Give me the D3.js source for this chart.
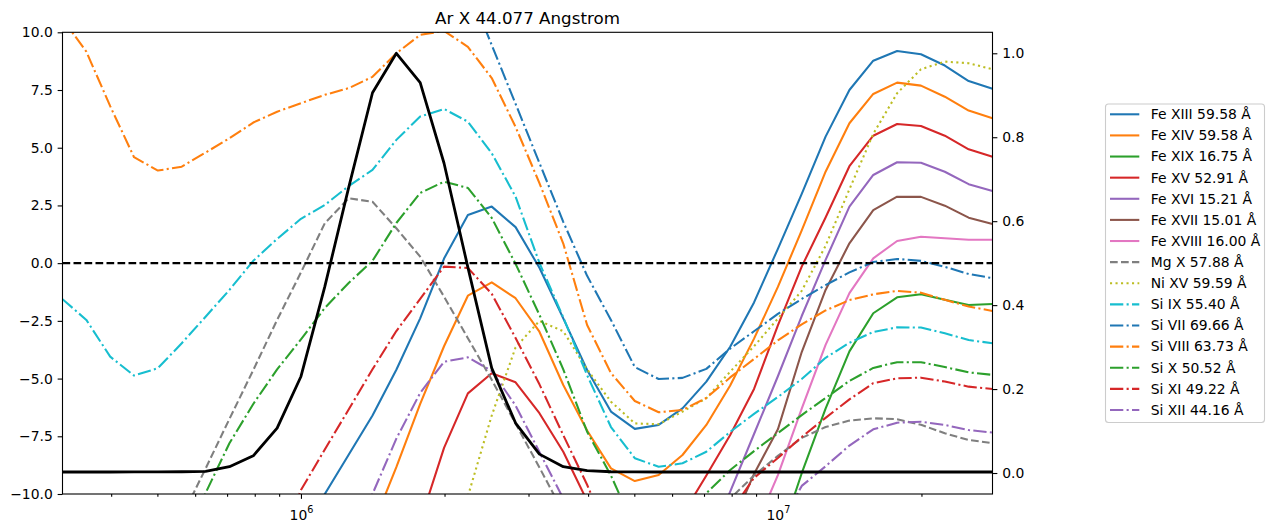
<!DOCTYPE html>
<html>
<head>
<meta charset="utf-8">
<script src="https://cdn.jsdelivr.net/npm/d3@7"></script>
<style>
  body { margin: 0; background: #fff; }
  svg { display: block; font-family: "DejaVu Sans", sans-serif; }
</style>
</head>
<body>
<svg id="chart" width="1274" height="532"></svg>
<script>
// log10 of temperature (K) for every grid point
var logT = [5.50, 5.55, 5.60, 5.65, 5.70, 5.75, 5.80, 5.85, 5.90, 5.95,
            6.00, 6.05, 6.10, 6.15, 6.20, 6.25, 6.30, 6.35, 6.40, 6.45,
            6.50, 6.55, 6.60, 6.65, 6.70, 6.75, 6.80, 6.85, 6.90, 6.95,
            7.00, 7.05, 7.10, 7.15, 7.20, 7.25, 7.30, 7.35, 7.40, 7.45];

var title = "Ar X 44.077 Angstrom";

var labels = ["Fe XIII 59.58 Å", "Fe XIV 59.58 Å", "Fe XIX 16.75 Å", "Fe XV 52.91 Å",
              "Fe XVI 15.21 Å", "Fe XVII 15.01 Å", "Fe XVIII 16.00 Å", "Mg X 57.88 Å",
              "Ni XV 59.59 Å", "Si IX 55.40 Å", "Si VII 69.66 Å", "Si VIII 63.73 Å",
              "Si X 50.52 Å", "Si XI 49.22 Å", "Si XII 44.16 Å"];

// null = point far outside the plotted window
var n = null;
var feXIII = [n,n,n,n,n,n,n,n,n,n, -12.5,-10.0,-8.3,-6.6,-4.62,-2.39,0.2,2.09,2.45,1.56,
              -0.2,-2.39,-4.63,-6.43,-7.18,-7.01,-6.29,-5.13,-3.62,-1.7,
              0.62,3.0,5.48,7.5,8.77,9.19,9.05,8.56,7.89,7.55];
var feXIV = [n,n,n,n,n,n,n,n,n,n, n,n,n,-11.4,-8.84,-6.1,-3.6,-1.41,-0.83,-1.52,
             -2.97,-5.28,-7.25,-8.89,-9.44,-9.18,-8.31,-7.01,-5.3,-3.27,
             -1.03,1.42,3.96,6.06,7.33,7.82,7.69,7.21,6.61,6.28];
var feXIX = [n,n,n,n,n,n,n,n,n,n, n,n,n,n,n,n,n,n,n,n,
             n,n,n,n,n,n,n,n,n,n,
             -12.2,-9.1,-6.3,-3.82,-2.17,-1.48,-1.35,-1.59,-1.81,-1.77];
var feXV = [n,n,n,n,n,n,n,n,n,n, n,n,n,n,n,-11.2,-8.0,-5.64,-4.77,-5.16,
            -6.5,-8.17,-10.3,-12.5,n,n,-10.9,-9.2,-7.44,-5.45,
            -2.7,-0.15,1.98,4.2,5.52,6.03,5.94,5.52,4.93,4.61];
var feXVI = [n,n,n,n,n,n,n,n,n,n, n,n,n,n,n,n,n,n,n,n,
             n,n,n,n,n,n,n,-12.3,-9.9,-7.4,
             -4.9,-2.29,0.14,2.45,3.82,4.37,4.35,3.96,3.42,3.13];
var feXVII = [n,n,n,n,n,n,n,n,n,n, n,n,n,n,n,n,n,n,n,n,
              n,n,n,n,n,n,n,n,-11.5,-9.13,
              -7.2,-3.85,-1.16,0.86,2.3,2.88,2.87,2.49,1.97,1.7];
var feXVIII = [n,n,n,n,n,n,n,n,n,n, n,n,n,n,n,n,n,n,n,n,
               n,n,n,n,n,n,n,n,n,-11.6,
               -9.18,-6.3,-3.54,-1.3,0.21,0.96,1.14,1.08,1.01,1.01];
var mgX = [n,n,n,n,n,-11.0,-8.9,-6.75,-4.63,-2.46, -0.4,1.73,2.81,2.66,1.51,0.28,-1.45,-3.25,-5.05,-6.95,
           -8.85,-10.8,n,n,n,n,n,-11.5,-10.2,-9.2,
           -8.35,-7.57,-7.1,-6.82,-6.72,-6.76,-7.0,-7.37,-7.66,-7.8];
var niXV = [n,n,n,n,n,n,n,n,n,n, n,n,n,n,n,n,-13.0,-10.1,-6.6,-3.65,
            -2.5,-2.95,-4.6,-6.0,-6.94,-6.98,-6.43,-5.85,-4.7,-3.6,
            -2.4,-1.2,0.75,3.2,5.6,7.36,8.4,8.73,8.66,8.4];
var siIX = [-1.56,-2.46,-4.05,-4.87,-4.55,-3.47,-2.32,-1.16,0.1,1.05,
            1.92,2.52,3.34,4.04,5.34,6.35,6.68,6.13,4.76,2.88,
            0.01,-2.35,-4.85,-7.1,-8.45,-8.82,-8.67,-8.17,-7.31,-6.53,
            -5.8,-5.02,-4.1,-3.45,-2.98,-2.78,-2.79,-3.04,-3.33,-3.47];
var siVII = [n,n,n,n,n,n,n,n,n,n, n,n,n,n,n,n,n,12.0,9.45,6.9,
             4.34,1.79,-0.55,-2.46,-4.5,-5.02,-4.97,-4.58,-3.7,-2.95,
             -2.2,-1.55,-0.95,-0.4,0.05,0.18,0.1,-0.16,-0.47,-0.65];
var siVIII = [10.58,9.16,6.8,4.59,4.01,4.18,4.79,5.41,6.09,6.56,
              6.93,7.29,7.58,8.07,9.09,9.89,10.06,9.37,8.02,5.9,
              3.47,0.85,-2.68,-4.76,-5.97,-6.46,-6.36,-5.84,-4.95,-4.15,
              -3.35,-2.65,-2.05,-1.6,-1.35,-1.2,-1.28,-1.59,-1.88,-2.07];
var siX = [n,n,n,n,n,-12.5,-9.96,-7.8,-6.1,-4.6, -3.3,-1.94,-0.86,0.1,1.74,3.04,3.53,3.26,1.96,-0.03,
           -2.24,-4.6,-7.3,-9.2,-11.5,n,-11.2,-9.96,-8.96,-8.14,
           -7.36,-6.58,-5.84,-5.1,-4.54,-4.29,-4.29,-4.5,-4.73,-4.84];
var siXI = [n,n,n,n,n,n,n,n,n,-12.5, -9.83,-8.07,-6.34,-4.6,-2.94,-1.55,-0.15,-0.21,-1.33,-3.24,
            -5.25,-7.45,-9.6,-12.0,n,n,n,n,-10.8,-9.3,
            -8.44,-7.53,-6.7,-5.9,-5.2,-4.99,-4.96,-5.13,-5.35,-5.45];
var siXII = [n,n,n,n,n,n,n,n,n,n, n,n,-12.5,-10.0,-7.6,-5.62,-4.27,-4.08,-4.67,-6.17,
             -8.18,-10.2,n,n,n,n,n,n,n,n,
             -11.5,-9.65,-8.8,-7.9,-7.2,-6.91,-6.87,-7.01,-7.23,-7.34];

// normalised contribution function of Ar X 44.077 (right axis)
var gofT = [0.0024,0.0024,0.0024,0.0025,0.0027,0.003,0.004,0.015,0.041,0.107,
            0.23,0.444,0.68,0.906,1.0,0.93,0.738,0.49,0.25,0.119,
            0.045,0.015,0.0055,0.003,0.0025,0.0024,0.0024,0.0024,0.0024,0.0024,
            0.0024,0.0024,0.0024,0.0024,0.0024,0.0024,0.0024,0.0024,0.0024,0.0024];

var leftTicks = [-10, -7.5, -5, -2.5, 0, 2.5, 5, 7.5, 10];
var rightTicks = [0, 0.2, 0.4, 0.6, 0.8, 1.0];
var majorT = [1e6, 1e7];
var minorT = [4e5, 5e5, 6e5, 7e5, 8e5, 9e5, 2e6, 3e6, 4e6, 5e6, 6e6, 7e6, 8e6, 9e6, 2e7];

var seriesValues = [feXIII, feXIV, feXIX, feXV, feXVI, feXVII, feXVIII, mgX,
                    niXV, siIX, siVII, siVIII, siX, siXI, siXII];

// styles
var colors = ["#1f77b4", "#ff7f0e", "#2ca02c", "#d62728", "#9467bd", "#8c564b", "#e377c2", "#7f7f7f",
              "#bcbd22", "#17becf", "#1f77b4", "#ff7f0e", "#2ca02c", "#d62728", "#9467bd"];
var SOLID = null, DASHED = "7.7,3.3", DOTTED = "2.1,3.4", DASHDOT = "13.3,3.3,2.1,3.3";
var dashes = [SOLID, SOLID, SOLID, SOLID, SOLID, SOLID, SOLID, DASHED,
              DOTTED, DASHDOT, DASHDOT, DASHDOT, DASHDOT, DASHDOT, DASHDOT];

var svg = d3.select("#chart");
var padL = 62.5, padR = 992.5, padT = 32.3, padB = 494;
var fs = 13.9;

var x = d3.scaleLog()
    .domain([Math.pow(10, 5.5), Math.pow(10, 7.45)])
    .range([padL, padR]);
var y = d3.scaleLinear().domain([-10, 10]).range([padB, padT]);
var y2 = d3.scaleLinear().domain([-0.05, 1.05]).range([padB, padT]);

svg.append("defs").append("clipPath").attr("id", "clip")
    .append("rect")
    .attr("x", padL).attr("y", padT)
    .attr("width", padR - padL).attr("height", padB - padT);

var plot = svg.append("g").attr("clip-path", "url(#clip)");

var line = d3.line()
    .defined(function(d) { return d[1] != null; })
    .x(function(d) { return x(Math.pow(10, d[0])); })
    .y(function(d) { return y(d[1]); });

seriesValues.forEach(function(vals, k) {
    plot.append("path")
        .datum(logT.map(function(t, i) { return [t, vals[i]]; }))
        .attr("fill", "none")
        .attr("stroke", colors[k])
        .attr("stroke-width", 2.08)
        .attr("stroke-linejoin", "round")
        .attr("stroke-dasharray", dashes[k])
        .attr("d", line);
});

// zero line
plot.append("line")
    .attr("x1", padL).attr("x2", padR)
    .attr("y1", y(0)).attr("y2", y(0))
    .attr("stroke", "#000")
    .attr("stroke-width", 2.08)
    .attr("stroke-dasharray", DASHED);

// G(T) on the twin axis
var line2 = d3.line()
    .x(function(d) { return x(Math.pow(10, d[0])); })
    .y(function(d) { return y2(d[1]); });

plot.append("path")
    .datum(logT.map(function(t, i) { return [t, gofT[i]]; }))
    .attr("fill", "none")
    .attr("stroke", "#000")
    .attr("stroke-width", 2.78)
    .attr("stroke-linejoin", "round")
    .attr("d", line2);

// axes
function styleAxis(g) {
    g.attr("font-size", fs).attr("font-family", null);
    g.select(".domain").remove();
    g.selectAll(".tick line").attr("stroke-width", 1.1);
    g.selectAll(".tick text").attr("fill", "#000");
}

svg.append("g")
    .attr("transform", "translate(" + padL + ",0)")
    .call(d3.axisLeft(y).tickValues(leftTicks).tickSize(4.86).tickPadding(4.86)
        .tickFormat(d3.format(".1f")))
    .call(styleAxis);

svg.append("g")
    .attr("transform", "translate(" + padR + ",0)")
    .call(d3.axisRight(y2).tickValues(rightTicks).tickSize(4.86).tickPadding(4.86)
        .tickFormat(d3.format(".1f")))
    .call(styleAxis);

svg.append("g")
    .attr("transform", "translate(0," + padB + ")")
    .call(d3.axisBottom(x).tickValues(minorT).tickSize(2.78).tickFormat(""))
    .call(styleAxis);

var gx = svg.append("g")
    .attr("transform", "translate(0," + padB + ")")
    .call(d3.axisBottom(x).tickValues(majorT).tickSize(4.86).tickFormat(""))
    .call(styleAxis);

gx.selectAll(".tick text").each(function(d) {
    var t = d3.select(this).attr("y", 25.5).attr("dy", null).attr("text-anchor", "middle");
    t.append("tspan").text("10");
    t.append("tspan").attr("dy", -6.5).attr("font-size", 9.7)
        .text(Math.round(Math.log10(d)));
});

// frame
svg.append("rect")
    .attr("x", padL).attr("y", padT)
    .attr("width", padR - padL).attr("height", padB - padT)
    .attr("fill", "none").attr("stroke", "#000").attr("stroke-width", 1.1);

// title
svg.append("text")
    .attr("x", (padL + padR) / 2).attr("y", 24)
    .attr("text-anchor", "middle")
    .attr("font-size", 16.7)
    .text(title);

// legend
var legend = svg.append("g");
legend.append("rect")
    .attr("x", 1105.5).attr("y", 104)
    .attr("width", 159).attr("height", 318.5)
    .attr("rx", 3).attr("ry", 3)
    .attr("fill", "#fff").attr("fill-opacity", 0.8)
    .attr("stroke", "#cccccc").attr("stroke-width", 1.1);

labels.forEach(function(lab, k) {
    var ly = 114.3 + 21.12 * k;
    legend.append("line")
        .attr("x1", 1110).attr("x2", 1139.3)
        .attr("y1", ly).attr("y2", ly)
        .attr("stroke", colors[k])
        .attr("stroke-width", 2.08)
        .attr("stroke-dasharray", dashes[k]);
    legend.append("text")
        .attr("x", 1150.7).attr("y", ly)
        .attr("dy", "0.35em")
        .attr("font-size", fs)
        .text(lab);
});
</script>
</body>
</html>
